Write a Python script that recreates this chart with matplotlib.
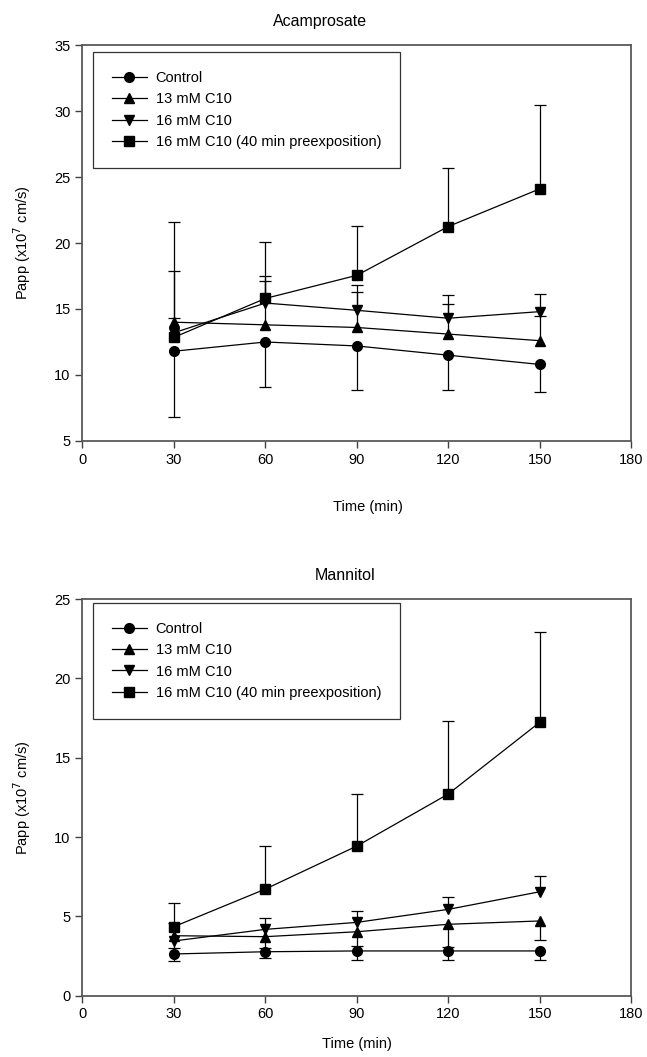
import numpy as np
import matplotlib
matplotlib.use("Agg")
import matplotlib.pyplot as plt

plt.rcParams['font.family'] = ['Liberation Sans', 'DejaVu Sans']

# time points (min)
time = [30, 60, 90, 120, 150]
labels = ["Control", "13 mM C10", "16 mM C10", "16 mM C10 (40 min preexposition)"]
markers = ["o", "^", "v", "s"]

# Acamprosate: values, lower and upper error (0 = not drawn)
aca_control = [11.8, 12.5, 12.2, 11.5, 10.8]
aca_control_lo = [5.0, 3.4, 3.35, 2.65, 2.1]
aca_control_hi = [0, 0, 0, 0, 0]
aca_c13 = [14.0, 13.8, 13.6, 13.1, 12.6]
aca_c13_lo = [0, 0, 0, 0, 0]
aca_c13_hi = [3.9, 3.35, 2.65, 2.3, 1.85]
aca_c16 = [13.2, 15.45, 14.9, 14.3, 14.8]
aca_c16_lo = [0, 0, 0, 0, 0]
aca_c16_hi = [1.15, 2.05, 1.9, 1.75, 1.3]
aca_pre = [12.85, 15.8, 17.55, 21.25, 24.1]
aca_pre_lo = [0, 0, 0, 0, 0]
aca_pre_hi = [8.75, 4.3, 3.75, 4.4, 6.35]

# Mannitol
man_control = [2.63, 2.77, 2.82, 2.82, 2.82]
man_control_lo = [0.45, 0.4, 0.6, 0.55, 0.6]
man_control_hi = [0, 0, 0, 0, 0]
man_c13 = [3.78, 3.72, 4.03, 4.5, 4.71]
man_c13_lo = [0.8, 0.7, 0.9, 1.4, 1.2]
man_c13_hi = [0, 0, 0, 0, 0]
man_c16 = [3.45, 4.18, 4.62, 5.44, 6.55]
man_c16_lo = [0, 0, 0, 0, 0]
man_c16_hi = [1.13, 0.7, 0.72, 0.76, 1.0]
man_pre = [4.35, 6.72, 9.43, 12.71, 17.23]
man_pre_lo = [0, 0, 0, 0, 0]
man_pre_hi = [1.47, 2.73, 3.28, 4.6, 5.71]

aca = [(aca_control, aca_control_lo, aca_control_hi),
       (aca_c13, aca_c13_lo, aca_c13_hi),
       (aca_c16, aca_c16_lo, aca_c16_hi),
       (aca_pre, aca_pre_lo, aca_pre_hi)]
man = [(man_control, man_control_lo, man_control_hi),
       (man_c13, man_c13_lo, man_c13_hi),
       (man_c16, man_c16_lo, man_c16_hi),
       (man_pre, man_pre_lo, man_pre_hi)]

fig = plt.figure(figsize=(6.47, 10.57), dpi=100)
ax1 = fig.add_axes([0.1275, 0.5828, 0.848, 0.3746])
ax2 = fig.add_axes([0.1275, 0.058, 0.848, 0.3753])


def draw(ax, series, title, title_x, ylim, yticks, xpad, xlab_x, leg_top):
    for (vals, lo, hi), m, lab in zip(series, markers, labels):
        x = np.array(time)
        v = np.array(vals, dtype=float)
        lo = np.array(lo, dtype=float)
        hi = np.array(hi, dtype=float)
        # one-sided error bars, drawn only where an error exists
        for err, sign in ((hi, 1), (lo, -1)):
            k = err > 0
            ax.vlines(x[k], v[k], v[k] + sign * err[k], color="black",
                      lw=0.9, zorder=2)
            ax.plot(x[k], v[k] + sign * err[k], ls="none", marker="_",
                    ms=9, mew=0.9, color="black", zorder=2)
        ax.plot(x, v, marker=m, color="black", lw=0.9, ms=7,
                label=lab, zorder=3)
    ax.set_xlim(0, 180)
    ax.set_xticks(range(0, 181, 30))
    ax.set_ylim(*ylim)
    ax.set_yticks(yticks)
    ax.tick_params(direction="out", length=5, width=1, labelsize=10.5,
                   top=False, right=False, color="0.25")
    for s in ax.spines.values():
        s.set_linewidth(1.3)
        s.set_color("0.35")
    ax.set_title(title, fontsize=11.5, pad=14, x=title_x)
    ax.set_xlabel("Time (min)", fontsize=10.5, labelpad=xpad, x=xlab_x)
    ax.set_ylabel("Papp (x10$^7$ cm/s)", fontsize=10.5, labelpad=15)
    leg = ax.legend(loc="upper left", bbox_to_anchor=(0.019, leg_top),
                    borderaxespad=0, fontsize=10.5, handlelength=2.4,
                    handletextpad=0.6, borderpad=1.3, labelspacing=0.5,
                    fancybox=False, framealpha=1, edgecolor="0.2")
    leg.get_frame().set_linewidth(0.9)


draw(ax1, aca, "Acamprosate", 0.433, (5, 35), range(5, 36, 5), 24, 0.52, 0.982)
draw(ax2, man, "Mannitol", 0.479, (0, 25), range(0, 26, 5), 11, 0.5, 0.99)

fig.savefig("out.png", dpi=100)
